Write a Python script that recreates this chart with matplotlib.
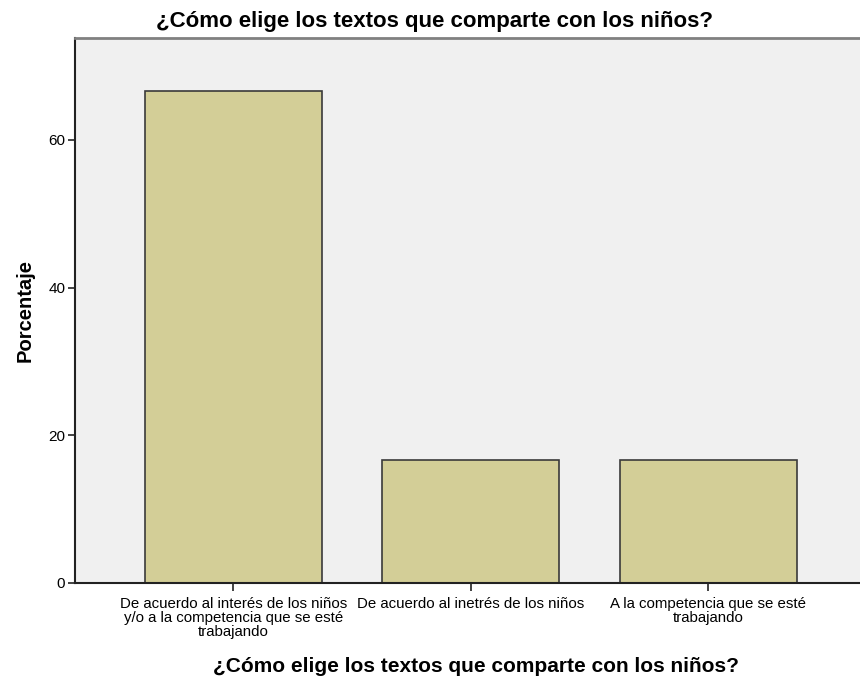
import matplotlib.pyplot as plt

plt.rcParams['font.family'] = ['Liberation Sans', 'DejaVu Sans']

# Datos
categorias = [
    "De acuerdo al interés de los niños\ny/o a la competencia que se esté\ntrabajando",
    "De acuerdo al inetrés de los niños",
    "A la competencia que se esté\ntrabajando",
]
porcentajes = [66.67, 16.67, 16.67]
ticks_y = [0, 20, 40, 60]

titulo = "¿Cómo elige los textos que comparte con los niños?"

fig = plt.figure(figsize=(8.6, 6.81), dpi=100)
ax = fig.add_axes([75 / 860, 1 - 583 / 681, 785 / 860, 545 / 681])
ax.set_facecolor('#F0F0F0')

x = list(range(len(categorias)))
ax.bar(x, porcentajes, width=0.745, color='#D3CE97', edgecolor='#3a3a3a', linewidth=1.2, zorder=2)

ax.set_xlim(-0.667, 2.638)
ax.set_ylim(0, 73.8)
ax.set_yticks(ticks_y)
ax.set_yticklabels([str(t) for t in ticks_y], fontsize=11)
ax.set_xticks(x)
ax.set_xticklabels(categorias, fontsize=10.8, linespacing=1.0)

ax.tick_params(axis='y', direction='out', length=5, width=1.2, color='#222222', pad=2)
ax.tick_params(axis='x', direction='out', length=6, width=1.2, color='#222222', pad=4)

for lado in ['left', 'bottom']:
    ax.spines[lado].set_color('#222222')
    ax.spines[lado].set_linewidth(1.5)
ax.spines['top'].set_color('#808080')
ax.spines['top'].set_linewidth(2)
ax.spines['right'].set_visible(False)

fig.text(25 / 860, 1 - 311 / 681, "Porcentaje", fontsize=14.5, fontweight='bold',
         rotation=90, ha='center', va='center')
fig.text(476 / 860, 1 - 667 / 681, titulo, fontsize=15, fontweight='bold', ha='center', va='center')
fig.text(434 / 860, 1 - 21 / 681, titulo, fontsize=16, fontweight='bold', ha='center', va='center')

fig.savefig("out.png", dpi=100)
